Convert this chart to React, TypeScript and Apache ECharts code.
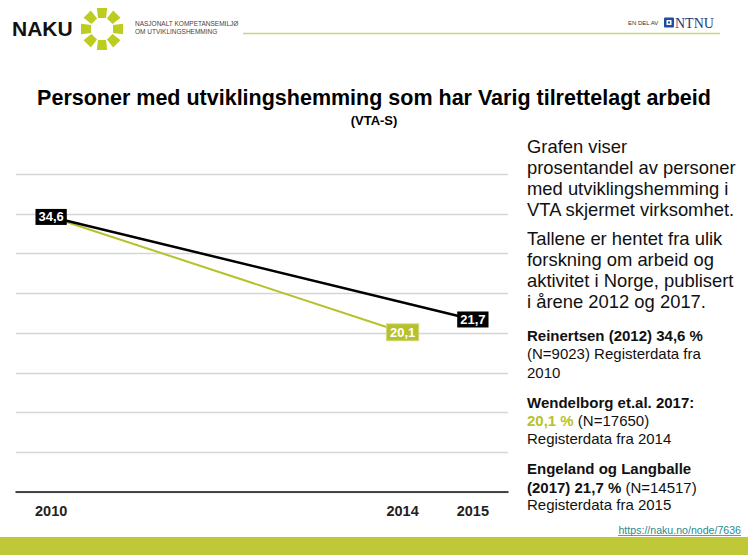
import React, { useEffect, useRef } from "react";
import * as echarts from "echarts";

const categories = ["2010", "", "", "", "", "2014", "2015"];
const wendelborg = [34.6, null, null, null, null, 20.1, null];
const engeland = [34.6, null, null, null, null, null, 21.7];
const yMin = 0;
const yMax = 40;
const yInterval = 5;

const GREEN = "#b7c12b";
const FONT = "Liberation Sans, Arial, sans-serif";

const infoLines: [string, number, number][] = [
  ["Grafen viser", 146, 18.4],
  ["prosentandel av personer", 167, 18.4],
  ["med utviklingshemming i", 188, 18.4],
  ["VTA skjermet virksomhet.", 209, 18.4],
  ["Tallene er hentet fra ulik", 238, 18.4],
  ["forskning om arbeid og", 259, 18.4],
  ["aktivitet i Norge, publisert", 280, 18.4],
  ["i årene 2012 og 2017.", 301, 18.4],
  ["{b|Reinertsen (2012) 34,6 %}", 335, 15],
  ["(N=9023) Registerdata fra", 353, 15],
  ["2010", 372, 15],
  ["{b|Wendelborg et.al. 2017:}", 402, 15],
  ["{g|20,1 %} (N=17650)", 420, 15],
  ["Registerdata fra 2014", 438, 15],
  ["{b|Engeland og Langballe}", 468, 15],
  ["{b|(2017) 21,7 %} (N=14517)", 487, 15],
  ["Registerdata fra 2015", 504, 15],
];

function labelFmt(p: any) {
  return String(p.value).replace(".", ",");
}

export default function App() {
  const ref = useRef<HTMLDivElement>(null);
  useEffect(() => {
    if (!ref.current) return;
    const chart = echarts.init(ref.current, undefined, { renderer: "svg" });

    const sun: any[] = [];
    const cx = 102, cy = 29;
    for (let i = 0; i < 8; i++) {
      const a = (i * Math.PI) / 4;
      const ux = Math.cos(a), uy = Math.sin(a);
      const px = -uy, py = ux;
      const r1 = 11, r2 = 21, w1 = 4, w2 = 5.2;
      sun.push({
        type: "polygon",
        shape: {
          points: [
            [cx + ux * r1 + px * w1, cy + uy * r1 + py * w1],
            [cx + ux * r2 + px * w2, cy + uy * r2 + py * w2],
            [cx + ux * r2 - px * w2, cy + uy * r2 - py * w2],
            [cx + ux * r1 - px * w1, cy + uy * r1 - py * w1],
          ],
        },
        style: { fill: "#bccd1f" },
      });
    }

    const info = infoLines.map(([t, y, fs]) => ({
      type: "text",
      x: 527,
      y: y,
      style: {
        text: t,
        fill: "#111",
        font: `${fs}px ${FONT}`,
        verticalAlign: "middle",
        rich: {
          b: { fontWeight: "bold", fontSize: fs, fontFamily: FONT, fill: "#111", color: "#111" },
          g: { fontWeight: "bold", fontSize: fs, fontFamily: FONT, fill: GREEN, color: GREEN },
        },
      },
    }));

    const labelBase = {
      show: true,
      position: "inside",
      color: "#fff",
      fontWeight: "bold",
      fontSize: 13,
      fontFamily: FONT,
      padding: [2, 3, 1, 3],
      formatter: labelFmt,
    };

    chart.setOption({
      animation: false,
      backgroundColor: "#fff",
      title: [
        {
          text: "Personer med utviklingshemming som har Varig tilrettelagt arbeid",
          left: "center",
          top: 82,
          textStyle: { fontFamily: FONT, fontWeight: "bold", fontSize: 21.5, color: "#000" },
        },
        {
          text: "(VTA-S)",
          left: "center",
          top: 109,
          textStyle: { fontFamily: FONT, fontWeight: "bold", fontSize: 13, color: "#000" },
        },
      ],
      grid: { left: 16, right: 240, top: 174, bottom: 63 },
      xAxis: {
        type: "category",
        data: categories,
        boundaryGap: true,
        axisLine: { lineStyle: { color: "#111", width: 1.5 } },
        axisTick: { show: false },
        axisLabel: {
          interval: 0,
          margin: 11,
          color: "#222",
          fontWeight: "bold",
          fontSize: 14.5,
          fontFamily: FONT,
        },
      },
      yAxis: {
        type: "value",
        min: yMin,
        max: yMax,
        interval: yInterval,
        axisLabel: { show: false },
        axisLine: { show: false },
        axisTick: { show: false },
        splitLine: { lineStyle: { color: "#d6d6d6", width: 1.3 } },
      },
      series: [
        {
          type: "line",
          connectNulls: true,
          symbol: "circle",
          symbolSize: 1,
          lineStyle: { color: GREEN, width: 2 },
          itemStyle: { color: GREEN },
          z: 2,
          data: wendelborg.map((v, i) =>
            v === null
              ? null
              : {
                  value: v,
                  label:
                    i === 0
                      ? { show: false }
                      : { ...labelBase, backgroundColor: GREEN, borderColor: "#d7dc86", borderWidth: 1 },
                }
          ),
        },
        {
          type: "line",
          connectNulls: true,
          symbol: "circle",
          symbolSize: 1,
          lineStyle: { color: "#000", width: 2.5 },
          itemStyle: { color: "#000" },
          z: 3,
          data: engeland.map((v) =>
            v === null ? null : { value: v, label: { ...labelBase, backgroundColor: "#000" } }
          ),
        },
      ],
      graphic: [
        {
          type: "text",
          x: 12,
          y: 28,
          style: { text: "NAKU", font: `bold 21px ${FONT}`, fill: "#111", verticalAlign: "middle" },
        },
        ...sun,
        {
          type: "text",
          x: 135,
          y: 23,
          style: { text: "NASJONALT KOMPETANSEMILJØ", font: `6.5px ${FONT}`, fill: "#444", verticalAlign: "middle" },
        },
        {
          type: "text",
          x: 135,
          y: 31,
          style: { text: "OM UTVIKLINGSHEMMING", font: `6.5px ${FONT}`, fill: "#444", verticalAlign: "middle" },
        },
        {
          type: "line",
          shape: { x1: 243, y1: 33.5, x2: 720, y2: 33.5 },
          style: { stroke: "#cfd37a", lineWidth: 1.5 },
        },
        {
          type: "text",
          x: 628,
          y: 23,
          style: { text: "EN DEL AV", font: `6px ${FONT}`, fill: "#333", verticalAlign: "middle" },
        },
        {
          type: "rect",
          shape: { x: 664, y: 17.5, width: 10, height: 10, r: 1 },
          style: { fill: "#1f4f9c" },
        },
        {
          type: "rect",
          shape: { x: 666.5, y: 20, width: 5, height: 5 },
          style: { fill: "#fff" },
        },
        {
          type: "rect",
          shape: { x: 668, y: 21.5, width: 2, height: 2 },
          style: { fill: "#1f4f9c" },
        },
        {
          type: "text",
          x: 675,
          y: 23,
          style: { text: "NTNU", font: `14px "Liberation Serif", serif`, fill: "#1f3c78", verticalAlign: "middle" },
        },
        ...info,
        {
          type: "rect",
          shape: { x: 0, y: 537, width: 748, height: 18 },
          style: { fill: "#bfc938" },
        },
        {
          type: "text",
          x: 741,
          y: 530,
          style: {
            text: "https://naku.no/node/7636",
            font: `10.6px ${FONT}`,
            fill: "#2b8a8c",
            align: "right",
            verticalAlign: "middle",
          },
        },
        {
          type: "line",
          shape: { x1: 618, y1: 535.5, x2: 741, y2: 535.5 },
          style: { stroke: "#2b8a8c", lineWidth: 0.8 },
        },
      ],
    });
    return () => chart.dispose();
  }, []);
  return (
    <div
      ref={ref}
      style={{ position: "absolute", left: 0, top: 0, width: 748, height: 555 }}
    />
  );
}
